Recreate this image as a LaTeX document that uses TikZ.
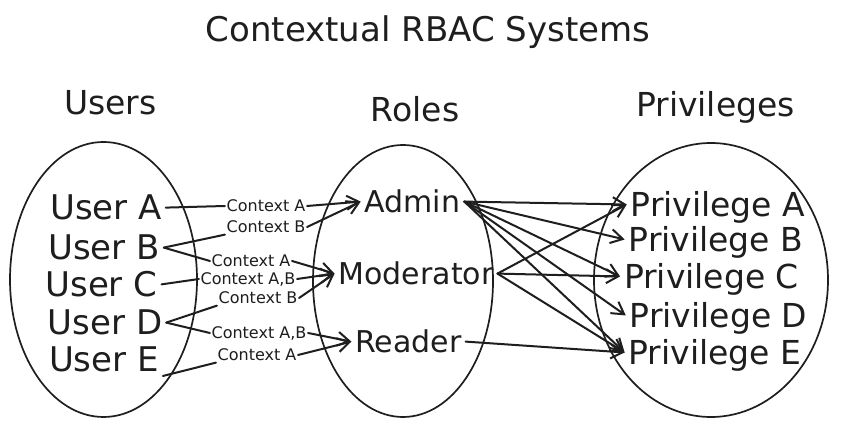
\documentclass[tikz,border=0pt]{standalone}
\usepackage{fontspec}
\setmainfont{DejaVu Sans}
\usetikzlibrary{arrows.meta}
\definecolor{ink}{HTML}{1E1E1E}
\begin{document}
\begin{tikzpicture}[x=1pt,y=-1pt,
  txt/.style={text=ink, inner sep=0pt, outer sep=4pt, text depth=0pt, anchor=base},
  usr/.style={txt, font=\fontsize{34}{40}\selectfont},
  priv/.style={txt, font=\fontsize{33}{40}\selectfont},
  role/.style={txt, font=\fontsize{30}{36}\selectfont},
  head/.style={txt, font=\fontsize{33}{40}\selectfont},
  ttl/.style={txt, font=\fontsize{34}{40}\selectfont},
  ctx/.style={text=ink, inner sep=1.5pt, text depth=0pt, font=\fontsize{16}{19}\selectfont},
  link/.style={draw=ink, line width=2pt, line cap=round, line join=round},
  arr/.style={link, -{Straight Barb[length=12pt,width=14pt]}},
  group/.style={draw=ink, line width=1.7pt}]
\fill[white] (0,0) rectangle (852,427);
\useasboundingbox (0,0) rectangle (852,427);

% title and headers
\node[ttl] (title) at (428,42) {Contextual RBAC Systems};
\node[head] (hUsers) at (110.5,115) {Users};
\node[head] (hRoles) at (415,122) {Roles};
\node[head] (hPriv) at (715.5,117) {Privileges};

% group ellipses
\draw[group] (103.5,279.5) ellipse [x radius=93.5pt, y radius=137.5pt];
\draw[group] (403,281) ellipse [x radius=90pt, y radius=136pt];
\draw[group] (711,280) ellipse [x radius=117pt, y radius=137pt];

% users
\node[usr] (uA) at (106,220) {User A};
\node[usr] (uB) at (104,260) {User B};
\node[usr] (uC) at (101.5,297) {User C};
\node[usr] (uD) at (105,335) {User D};
\node[usr] (uE) at (104,372) {User E};

% roles
\node[role] (admin) at (412.5,213) {Admin};
\node[role] (mod) at (416,285) {Moderator};
\node[role] (reader) at (408.5,353) {Reader};

% privileges
\node[priv] (pA) at (718,217) {Privilege A};
\node[priv] (pB) at (716,252) {Privilege B};
\node[priv] (pC) at (711.5,289) {Privilege C};
\node[priv] (pD) at (718.5,328) {Privilege D};
\node[priv] (pE) at (715,365) {Privilege E};

% context labels
\node[ctx] (c1) at (266,206) {Context A};
\node[ctx] (c2) at (266,227) {Context B};
\node[ctx] (c3) at (251,261) {Context A};
\node[ctx] (c4) at (248,279) {Context A,B};
\node[ctx] (c5) at (258,298) {Context B};
\node[ctx] (c6) at (259,333) {Context A,B};
\node[ctx] (c7) at (257,355) {Context A};

% user -> role connectors
\draw[link] (uA.east) -- (c1.west);
\draw[arr] (c1.east) -- (admin.west);
\draw[link] (uB.east) -- (c2.south west);
\draw[arr] (c2.east) -- (admin.west);
\draw[link] (uB.east) -- (c3.west);
\draw[arr] (c3.east) -- (mod.west);
\draw[link] (uC.east) -- (c4.west);
\draw[arr] (c4.east) -- (mod.west);
\draw[link] (uD.east) -- (c5.south west);
\draw[arr] (c5.east) -- (mod.west);
\draw[link] (uD.east) -- (c6.west);
\draw[arr] (c6.east) -- (reader.west);
\draw[link] (uE.south east) -- (c7.south west);
\draw[arr] (c7.east) -- (reader.west);

% role -> privilege connectors
\draw[arr] (admin.east) -- (pA.west);
\draw[arr] (admin.east) -- (pB.west);
\draw[arr] (admin.east) -- (pC.west);
\draw[arr] (admin.east) -- (pD.west);
\draw[arr] (admin.east) -- (pE.west);
\draw[arr] (mod.east) -- (pA.west);
\draw[arr] (mod.east) -- (pC.west);
\draw[arr] (mod.east) -- (pE.west);
\draw[arr] (reader.east) -- (pE.west);
\end{tikzpicture}
\end{document}
